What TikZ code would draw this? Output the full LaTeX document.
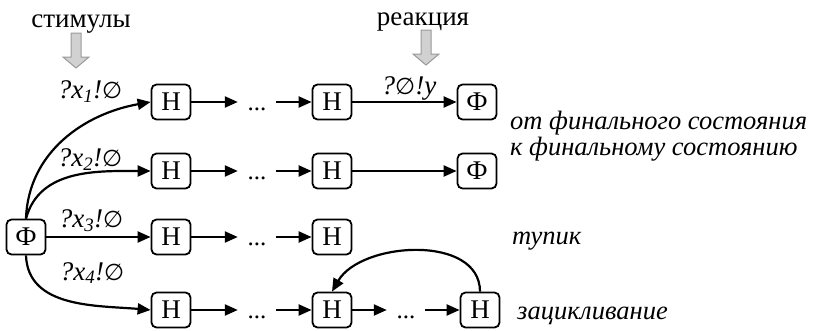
\documentclass[tikz,border=0pt]{standalone}
\usepackage{fontspec}
\setmainfont{Liberation Serif}
\newfontfamily\dvs{DejaVu Sans}
\usetikzlibrary{arrows.meta}
\newcommand{\es}{{\dvs\itshape\fontsize{23}{26}\selectfont ∅}}
\newcommand{\ddd}{\raisebox{-8pt}[0pt][0pt]{...}}
\begin{document}
\begin{tikzpicture}[x=1pt,y=-1pt,
  st/.style={draw,line width=1.8pt,rounded corners=5pt,minimum width=39pt,minimum height=35pt,inner sep=0pt,font=\rmfamily\fontsize{27}{29}\selectfont},
  dd/.style={inner sep=0pt,minimum width=38pt,font=\rmfamily\fontsize{25}{27}\selectfont},
  ar/.style={line width=2.2pt,-{Triangle[length=13pt,width=11pt]}},
  lab/.style={inner sep=0pt,font=\rmfamily\fontsize{27}{29}\selectfont\itshape},
  side/.style={inner sep=0pt,anchor=base west,font=\rmfamily\fontsize{26.5}{28}\selectfont\itshape},
  top/.style={inner sep=0pt,anchor=base,font=\rmfamily\fontsize{27}{29}\selectfont},
  gray arrow/.style={fill=black!18,draw=black!40,line width=1pt}
]
\useasboundingbox (0,0) rectangle (815,330);
% rows
\node[st] (f) at (26,237) {Ф};
% row 1
\node[st] (h11) at (171,102) {Н};
\node[dd] (d1) at (257,102) {\ddd};
\node[st] (h12) at (332,102) {Н};
\node[st] (f1) at (477,102) {Ф};
% row 2
\node[st] (h21) at (171,171) {Н};
\node[dd] (d2) at (257,171) {\ddd};
\node[st] (h22) at (332,171) {Н};
\node[st] (f2) at (477,171) {Ф};
% row 3
\node[st] (h31) at (171,237) {Н};
\node[dd] (d3) at (257,237) {\ddd};
\node[st] (h32) at (332,237) {Н};
% row 4
\node[st] (h41) at (171,310) {Н};
\node[dd] (d4) at (257,310) {\ddd};
\node[st] (h42) at (332,310) {Н};
\node[dd] (d5) at (406,310) {\ddd};
\node[st] (h43) at (480,310) {Н};
% connectors
\foreach \a/\b in {h11/d1,d1/h12,h12/f1,h21/d2,d2/h22,h22/f2,f/h31,h31/d3,d3/h32,h41/d4,d4/h42,h42/d5,d5/h43}
  \draw[ar] (\a) -- (\b);
\draw[ar] (f.north) to[out=88,in=190] (h11.west);
\draw[ar] (f.north) to[out=75,in=180] (h21.west);
\draw[ar] (f.south) to[out=-88,in=175] (h41.west);
\draw[ar] (h43.north) to[out=90,in=60] (h42.north);
% labels
\node[lab] (l1) at (90,92) {?x\textsubscript{1}!\es};
\node[lab] (l2) at (90,160) {?x\textsubscript{2}!\es};
\node[lab] (l3) at (91,221) {?x\textsubscript{3}!\es};
\node[lab] (l4) at (92,273) {?x\textsubscript{4}!\es};
\node[lab] (l5) at (409,88) {?\es!y};
% side texts
\node[side] (t1) at (510,129) {от финального состояния};
\node[side] (t2) at (510,155) {к финальному состоянию};
\node[side] (t3) at (512,244) {тупик};
\node[side] (t4) at (517,319) {зацикливание};
% top texts
\node[top] (s) at (81,27) {стимулы};
\node[top] (r) at (423,25) {реакция};
\draw[gray arrow] (71,33) -- (81,33) -- (81,57) -- (89,57) -- (76,68) -- (63,57) -- (71,57) -- cycle;
\draw[gray arrow] (421,30) -- (431,30) -- (431,54) -- (439,54) -- (426,65) -- (413,54) -- (421,54) -- cycle;
\end{tikzpicture}
\end{document}
